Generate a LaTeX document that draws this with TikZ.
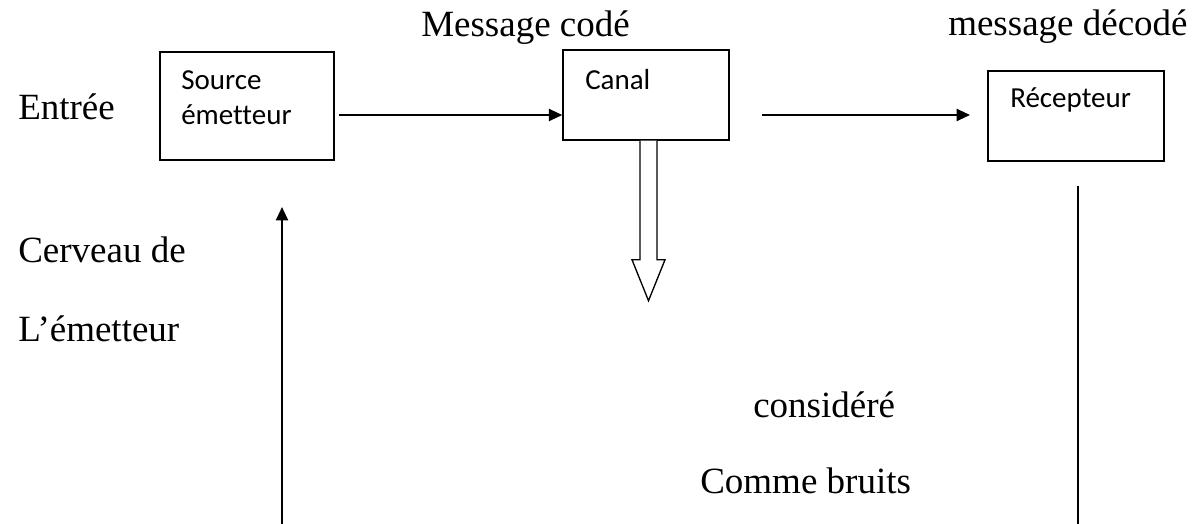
\documentclass[tikz,border=0pt]{standalone}
\usepackage{fontspec}
\setmainfont{Liberation Serif}
\newfontfamily\boxfont[Ligatures=NoCommon]{Carlito}
\usetikzlibrary{arrows.meta}
\tikzset{
  box/.style={draw, line width=1.1pt, inner sep=0pt},
  lbl/.style={anchor=base west, inner sep=0pt, font=\fontsize{27.75}{33}\selectfont},
  boxtxt/.style={anchor=base west, inner sep=0pt, font=\boxfont\fontsize{21.75}{26}\selectfont},
  arr/.style={line width=1.5pt, -{Triangle[length=10pt, width=9pt]}},
  plain/.style={line width=1.1pt}
}
\begin{document}
\begin{tikzpicture}[x=0.75pt,y=-0.75pt]
\useasboundingbox (0,0) rectangle (1199,524);

% boxes
\node[box, minimum width=130.5pt, minimum height=81pt] (src) at (247,106) {};
\node[box, minimum width=124.5pt, minimum height=67.5pt] (canal) at (646,95) {};
\node[box, minimum width=132pt, minimum height=67.5pt] (rec) at (1076,116) {};

% box texts
\node[boxtxt] (t1) at (181,90) {Source};
\node[boxtxt] (t2) at (181,125) {émetteur};
\node[boxtxt] (t3) at (585,90) {Canal};
\node[boxtxt] (t4) at (1010,108) {Récepteur};

% free labels
\node[lbl] (l1) at (421,37) {Message codé};
\node[lbl] (l2) at (948,36) {message décodé};
\node[lbl] (l3) at (18,120) {Entrée};
\node[lbl] (l4) at (18,262) {Cerveau de};
\node[lbl] (l5) at (18,341) {L’émetteur};
\node[lbl] (l6) at (753,417) {considéré};
\node[lbl] (l7) at (700,493) {Comme bruits};

% connectors
\coordinate (a1s) at (339,115);
\draw[arr] (a1s) -- (a1s -| canal.west);
\coordinate (a2s) at (762,115);
\coordinate (a2e) at (970,115);
\draw[arr] (a2s) -- (a2e);
\coordinate (upb) at (282,524);
\coordinate (upt) at (282,207);
\draw[arr] (upb) -- (upt);
\coordinate (rl1) at (1078,186);
\coordinate (rl2) at (1078,524);
\draw[plain] (rl1) -- (rl2);

% hollow block arrow under the channel
\draw[line width=1pt, fill=white]
  ([xshift=-4.5pt]canal.south) -- ++(0,119) -- ++(-8,0) -- ++(16.5,41)
  -- ++(16.5,-41) -- ++(-8,0) -- ([xshift=8.25pt]canal.south);
\end{tikzpicture}
\end{document}
